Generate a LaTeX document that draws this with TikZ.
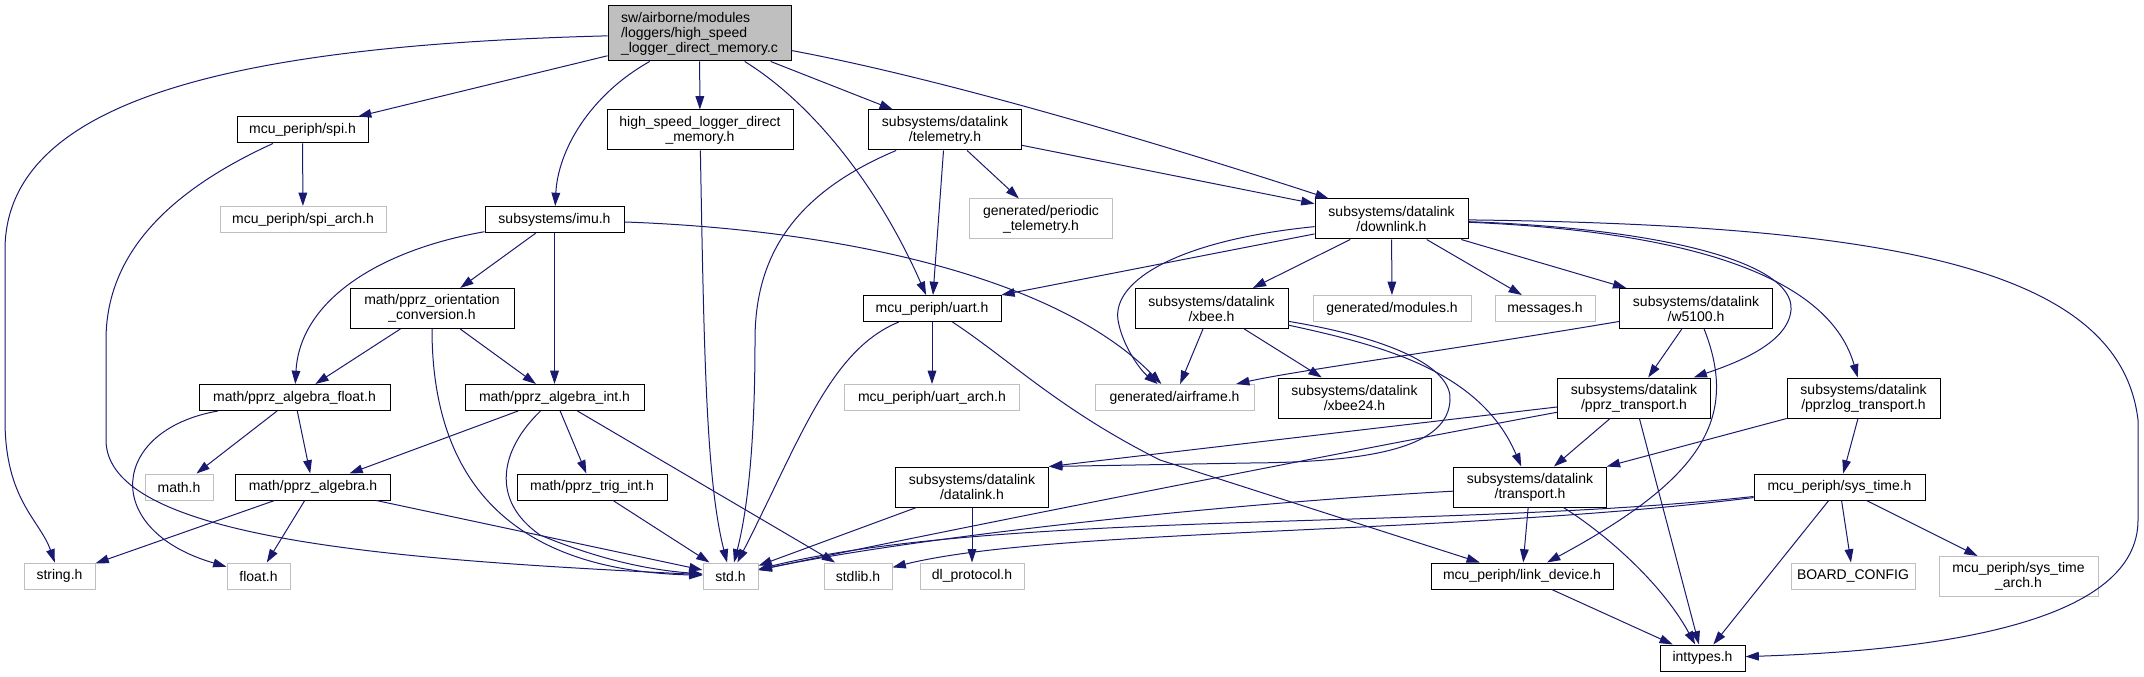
\documentclass[tikz,border=0pt]{standalone}
\usepackage{fontspec}
\setmainfont{Liberation Sans}
\usepackage{xcolor}
\usepackage{tikz}
\usetikzlibrary{arrows.meta}

\definecolor{edgeblue}{HTML}{191970}
\definecolor{extgray}{HTML}{BFBFBF}

\begin{document}
\begin{tikzpicture}[
  x=0.75pt, y=-0.75pt,
  font=\fontsize{10.5}{11.25}\selectfont,
  hdr/.style={rectangle, draw=black, line width=0.75pt, fill=white, inner sep=0pt, minimum height=19.5pt, align=center},
  ext/.style={hdr, draw=extgray},
  dbl/.style={minimum height=30pt},
  bw/.style={minimum width=#1*0.75pt},
  inc/.style={-{Triangle[length=10pt,width=6.5pt]}, edgeblue, line width=0.75pt},
]
\useasboundingbox (0,0) rectangle (2144,677);

% Files
\node[hdr, bw=183, minimum height=41.25pt, fill=extgray, align=left] (main) at (699.5,33.5) {sw/airborne/modules\\/loggers/high\_speed\\\_logger\_direct\_memory.c};
\node[hdr, bw=131] (spi) at (302.5,130) {mcu\_periph/spi.h};
\node[ext, bw=166] (spiarch) at (303,219.5) {mcu\_periph/spi\_arch.h};
\node[hdr, dbl, bw=186] (hsldm) at (700,130) {high\_speed\_logger\_direct\\\_memory.h};
\node[hdr, dbl, bw=153] (telem) at (945,130) {subsystems/datalink\\/telemetry.h};
\node[hdr, bw=139] (imu) at (554.5,219.5) {subsystems/imu.h};
\node[ext, dbl, bw=143] (periodic) at (1041,219) {generated/periodic\\\_telemetry.h};
\node[hdr, dbl, bw=153] (downlink) at (1391.5,219) {subsystems/datalink\\/downlink.h};
\node[hdr, dbl, bw=164] (orient) at (432,308.5) {math/pprz\_orientation\\\_conversion.h};
\node[hdr, bw=138] (uart) at (932,308.5) {mcu\_periph/uart.h};
\node[hdr, dbl, bw=153] (xbee) at (1211.5,308.5) {subsystems/datalink\\/xbee.h};
\node[ext, bw=158] (modules) at (1392,308.5) {generated/modules.h};
\node[ext, bw=100] (messages) at (1545,308.5) {messages.h};
\node[hdr, dbl, bw=153] (w5100) at (1696,308.5) {subsystems/datalink\\/w5100.h};
\node[hdr, bw=191] (afloat) at (294.5,397.5) {math/pprz\_algebra\_float.h};
\node[hdr, bw=179] (aint) at (554.5,397.5) {math/pprz\_algebra\_int.h};
\node[ext, bw=175] (uartarch) at (932,397.5) {mcu\_periph/uart\_arch.h};
\node[ext, bw=159] (airframe) at (1174.5,397.5) {generated/airframe.h};
\node[hdr, dbl, bw=153] (xbee24) at (1354.5,398) {subsystems/datalink\\/xbee24.h};
\node[hdr, dbl, bw=153] (pprztr) at (1634,398) {subsystems/datalink\\/pprz\_transport.h};
\node[hdr, dbl, bw=153] (pprzlog) at (1863.5,398) {subsystems/datalink\\/pprzlog\_transport.h};
\node[ext, bw=68] (mathh) at (179,487) {math.h};
\node[hdr, bw=155] (algebra) at (313,487) {math/pprz\_algebra.h};
\node[hdr, bw=150] (trig) at (592,487) {math/pprz\_trig\_int.h};
\node[hdr, dbl, bw=153] (datalink) at (972,487) {subsystems/datalink\\/datalink.h};
\node[hdr, dbl, bw=153] (transport) at (1530,487) {subsystems/datalink\\/transport.h};
\node[hdr, bw=171] (systime) at (1839.5,487) {mcu\_periph/sys\_time.h};
\node[ext, bw=71] (string) at (59.5,576) {string.h};
\node[ext, bw=63] (float) at (258.5,576) {float.h};
\node[ext, bw=55] (std) at (730.5,576) {std.h};
\node[ext, bw=68] (stdlib) at (858,576) {stdlib.h};
\node[ext, bw=104] (dlproto) at (972,576) {dl\_protocol.h};
\node[hdr, bw=182] (linkdev) at (1522,576) {mcu\_periph/link\_device.h};
\node[ext, bw=124] (board) at (1853,576) {BOARD\_CONFIG};
\node[ext, dbl, bw=159] (systimearch) at (2018.5,576.5) {mcu\_periph/sys\_time\\\_arch.h};
\node[hdr, bw=85] (inttypes) at (1702.5,658) {inttypes.h};

% Connections
\draw[inc] (main) .. controls (250,45) and (5,95) .. (5,250) -- (5,420) .. controls (5,500) and (40,520) .. (string);
\draw[inc] (main) -- (spi);
\draw[inc] (main) .. controls (590,95) and (558,150) .. (imu);
\draw[inc] (main) -- (hsldm);
\draw[inc] (main) .. controls (815,105) and (880,190) .. (uart);
\draw[inc] (main) -- (telem);
\draw[inc] (main) .. controls (950,80) and (1180,150) .. (downlink);
\draw[inc] (spi) -- (spiarch);
\draw[inc] (spi) .. controls (160,195) and (106,260) .. (106,340) -- (106,440) .. controls (106,540) and (400,560) .. (std);
\draw[inc] (hsldm) .. controls (704,350) and (706,480) .. (std);
\draw[inc] (telem) .. controls (790,195) and (755,260) .. (755,340) .. controls (755,460) and (745,520) .. (std);
\draw[inc] (telem) -- (uart);
\draw[inc] (telem) -- (periodic);
\draw[inc] (telem) -- (downlink);
\draw[inc] (imu) .. controls (380,250) and (300,300) .. (afloat);
\draw[inc] (imu) -- (orient);
\draw[inc] (imu) -- (aint);
\draw[inc] (imu) .. controls (850,230) and (1060,280) .. (airframe);
\draw[inc] (orient) -- (afloat);
\draw[inc] (orient) -- (aint);
\draw[inc] (orient) .. controls (432,470) and (500,570) .. (std);
\draw[inc] (downlink) -- (uart);
\draw[inc] (downlink) .. controls (1180,240) and (1112,280) .. (1118,320) .. controls (1122,345) and (1140,370) .. (airframe);
\draw[inc] (downlink) -- (xbee);
\draw[inc] (downlink) -- (modules);
\draw[inc] (downlink) -- (messages);
\draw[inc] (downlink) -- (w5100);
\draw[inc] (downlink) .. controls (1650,228) and (1795,260) .. (1791,310) .. controls (1788,345) and (1730,365) .. (pprztr);
\draw[inc] (downlink) .. controls (1700,232) and (1830,280) .. (pprzlog);
\draw[inc] (downlink) .. controls (1900,225) and (2120,270) .. (2138,420) -- (2138,520) .. controls (2138,620) and (1950,650) .. (inttypes);
\draw[inc] (xbee) -- (airframe);
\draw[inc] (xbee) -- (xbee24);
\draw[inc] (xbee) .. controls (1380,345) and (1480,370) .. (transport);
\draw[inc] (xbee) .. controls (1400,340) and (1452,370) .. (1450,400) .. controls (1448,445) and (1380,462) .. (1250,463) -- (datalink.north east);
\draw[inc] (w5100) .. controls (1450,350) and (1300,370) .. (airframe);
\draw[inc] (w5100) -- (pprztr);
\draw[inc] (w5100) .. controls (1740,420) and (1700,480) .. (linkdev);
\draw[inc] (uart) -- (uartarch);
\draw[inc] (uart) .. controls (830,350) and (800,440) .. (std);
\draw[inc] (uart) .. controls (1010,360) and (1060,410) .. (1160,460) -- (linkdev);
\draw[inc] (afloat) -- (mathh);
\draw[inc] (afloat) -- (algebra);
\draw[inc] (afloat) .. controls (110,430) and (100,530) .. (float);
\draw[inc] (aint) -- (algebra);
\draw[inc] (aint) .. controls (500,450) and (490,500) .. (540,535) .. controls (600,560) and (650,570) .. (std);
\draw[inc] (aint) -- (trig);
\draw[inc] (aint) -- (stdlib);
\draw[inc] (algebra) -- (string);
\draw[inc] (algebra) -- (float);
\draw[inc] (algebra) -- (std);
\draw[inc] (trig) -- (std);
\draw[inc] (datalink) -- (std);
\draw[inc] (datalink) -- (dlproto);
\draw[inc] (pprztr) -- (datalink.north east);
\draw[inc] (pprztr) .. controls (1300,460) and (900,540) .. (std);
\draw[inc] (pprztr) -- (transport);
\draw[inc] (pprztr) -- (inttypes);
\draw[inc] (pprzlog) -- (transport);
\draw[inc] (pprzlog) -- (systime);
\draw[inc] (transport) .. controls (1200,505) and (900,540) .. (std);
\draw[inc] (transport) -- (linkdev);
\draw[inc] (transport) .. controls (1600,530) and (1660,580) .. (inttypes);
\draw[inc] (systime) .. controls (1450,530) and (1000,510) .. (std);
\draw[inc] (systime) .. controls (1450,535) and (1050,528) .. (stdlib);
\draw[inc] (systime) -- (inttypes);
\draw[inc] (systime) -- (board);
\draw[inc] (systime) -- (systimearch);
\draw[inc] (linkdev) -- (inttypes);

\end{tikzpicture}
\end{document}
